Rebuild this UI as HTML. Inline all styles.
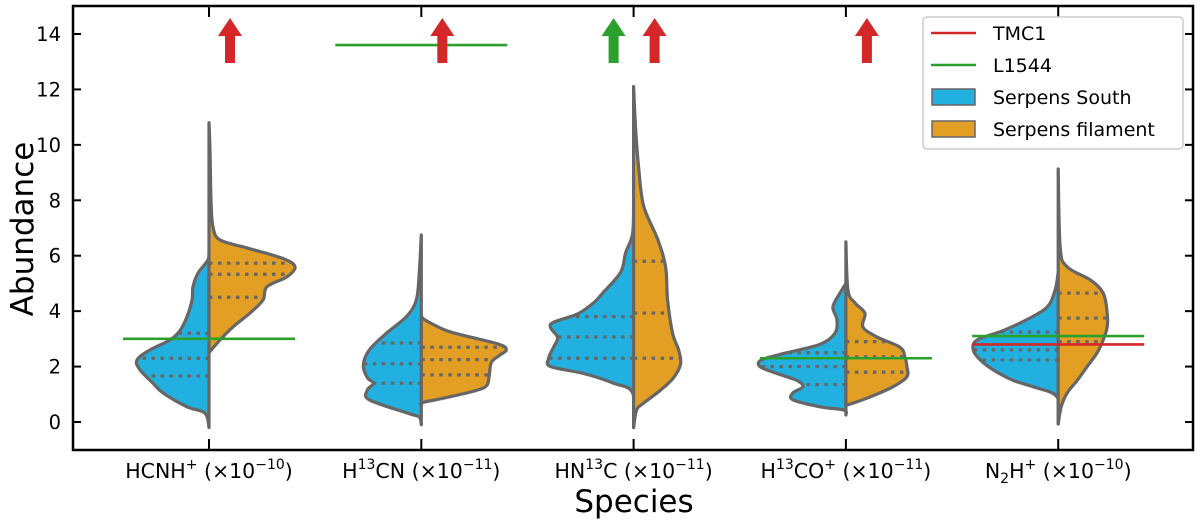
<!DOCTYPE html>
<html><head><meta charset="utf-8"><style>
body{margin:0;background:#fff;}
svg{display:block;font-family:"DejaVu Sans","Liberation Sans",sans-serif;}
</style></head><body>
<svg id="chart" width="1200" height="524" viewBox="0 0 1200 524"></svg>
<script>
const categories=["HCNH⁺","H¹³CN","HN¹³C","H¹³CO⁺","N₂H⁺"];
const catLabels=[["HCNH","+"," (×10","−10",")"],["H","13","CN (×10","−11",")"],["HN","13","C (×10","−11",")"],["H","13","CO","+"," (×10","−11",")"],["N","2","H","+"," (×10","−10",")"]];
const yTicks=[0,2,4,6,8,10,12,14];
// density profiles [value, density] per half
const southValues=[
[[-0.2,0],[0.32,4],[0.55,22],[1.05,46],[1.4,56],[1.88,69],[2.24,72],[2.6,59],[2.96,39],[3.3,29],[3.8,22],[4.4,17],[4.88,16],[5.37,11],[5.85,1],[6.2,0]],
[[-0.1,0],[0.18,2],[0.3,12],[0.8,52],[1.15,54],[1.4,48],[1.6,54],[2.05,58],[2.6,52],[3.2,35],[3.8,15],[4.4,5],[5.4,2],[6.75,0]],
[[-0.2,0],[1.05,1],[1.4,20],[1.75,50],[2.0,83],[2.3,85],[2.7,80],[3.05,76],[3.4,83],[3.6,80],[3.9,56],[4.3,40],[4.65,31],[5.4,13],[6.1,8],[6.8,1],[8,0]],
[[0.25,0],[0.43,2],[0.55,26],[0.8,53],[1.05,53],[1.27,43],[1.5,49],[1.75,69],[2.0,86],[2.25,84],[2.5,59],[2.8,26],[3.2,11],[3.7,9],[4.15,13],[4.65,6],[5.0,0]],
[[-0.07,0],[0.9,1],[1.27,25],[1.5,45],[1.88,65],[2.24,78],[2.6,85],[2.96,81],[3.3,55],[3.7,31],[4.15,11],[4.77,3],[5.4,0]]
];
const filamentValues=[
[[2.5,0],[2.96,11],[3.43,24],[3.93,41],[4.4,54],[4.88,58],[5.24,78],[5.6,86],[5.9,74],[6.28,38],[6.57,11],[7.04,4],[8.0,2],[9.8,1],[10.8,0]],
[[0.6,0],[0.7,1],[0.85,21],[1.1,51],[1.3,65],[1.7,68],[2.15,70],[2.4,78],[2.6,85],[2.8,78],[3.1,45],[3.3,25],[3.7,3],[3.9,0]],
[[-0.2,0],[0.43,3],[0.68,10],[1.15,27],[1.6,40],[2.1,47],[2.6,45],[3.2,39],[4.4,34],[5.6,32],[6.6,24],[7.8,10],[9.2,5],[10.6,2],[12.1,0]],
[[0.6,0],[0.68,7],[0.9,24],[1.27,47],[1.63,61],[2.0,61],[2.35,59],[2.7,54],[3.07,31],[3.43,17],[3.93,19],[4.3,9],[4.77,2],[6.5,0]],
[[-0.07,0],[0.55,3],[1.05,9],[1.5,19],[2.0,29],[2.5,39],[2.96,45],[3.43,49],[3.93,49],[4.65,45],[5.13,32],[5.6,9],[6.3,2],[9.13,0]]
];
const southQuartiles=[[1.66,2.3,3.2],[1.4,2.1,2.85],[2.3,3.07,3.8],[1.35,2.0,2.5],[2.24,2.6,3.25]];
const filamentQuartiles=[[4.5,5.33,5.73],[1.7,2.25,2.7],[2.3,3.93,5.8],[1.8,2.35,2.9],[2.9,3.75,4.65]];
const tmc1Values=[null,null,null,null,2.8];
const l1544Values=[3.0,13.6,null,2.3,3.1];
const tmc1Lower=[true,true,true,true,false];
const l1544Lower=[false,false,true,false,false];

const svg=document.getElementById('chart');
const NS='http://www.w3.org/2000/svg';
const L=73,R=1193,T=6,B=450;
const y0=422,yUnit=(422-34)/14;
function yS(v){return y0-v*yUnit;}
function xS(i){return 209+i*212.3;}
function wS(d){return d;}
function mk(tag,attrs,parent){const e=document.createElementNS(NS,tag);for(const k in attrs)e.setAttribute(k,attrs[k]);(parent||svg).appendChild(e);return e;}
function interp(prof,v){for(let k=0;k<prof.length-1;k++){const a=prof[k],b=prof[k+1];if(v>=a[0]&&v<=b[0]){return a[1]+(b[1]-a[1])*(v-a[0])/(b[0]-a[0]);}}return 0;}
function smooth(pts){let d='M'+pts[0][0]+','+pts[0][1];for(let i=0;i<pts.length-1;i++){const p0=pts[Math.max(0,i-1)],p1=pts[i],p2=pts[i+1],p3=pts[Math.min(pts.length-1,i+2)];const c1x=p1[0]+(p2[0]-p0[0])/6,c1y=p1[1]+(p2[1]-p0[1])/6,c2x=p2[0]-(p3[0]-p1[0])/6,c2y=p2[1]-(p3[1]-p1[1])/6;d+=' C'+c1x+','+c1y+' '+c2x+','+c2y+' '+p2[0]+','+p2[1];}return d;}

categories.forEach((c,i)=>{
  const g=mk('g',{});
  
  
  [[southValues[i],-1,'#22b0e0',southQuartiles[i],'south'],[filamentValues[i],1,'#e29f24',filamentQuartiles[i],'filament']].forEach(([prof,sgn,col,qs,nm])=>{
    const cx=xS(i);
    const pts=prof.map(p=>[cx+sgn*wS(p[1]),yS(p[0])]);
    let d=smooth(pts)+' Z';
    const p=mk('path',{d:d,fill:col,stroke:'#666',"stroke-width":3.2,"stroke-linejoin":'round'},g);
    
    
    qs.forEach(q=>{
      const w=wS(interp(prof,q));
      const ln=mk('line',{x1:cx,x2:cx+sgn*w,y1:yS(q),y2:yS(q),stroke:'#666',"stroke-width":3.2,"stroke-dasharray":'3.5,5.5'},g);
      
      
    });
  });
});

function arrow(x,col,name){
  const g=mk('g',{});
  
  
  mk('rect',{x:x-5,y:33,width:10,height:30,fill:col},g);
  mk('polygon',{points:(x-12)+',36 '+(x+12)+',36 '+x+',18',fill:col},g);
}
categories.forEach((c,i)=>{
  const cx=xS(i);
  if(l1544Values[i]!==null){const l=mk('line',{x1:cx-86,x2:cx+86,y1:yS(l1544Values[i]),y2:yS(l1544Values[i]),stroke:'#2ca02c',"stroke-width":2.6});
    
    }
  if(tmc1Values[i]!==null){const l=mk('line',{x1:cx-86,x2:cx+86,y1:yS(tmc1Values[i]),y2:yS(tmc1Values[i]),stroke:'#d62728',"stroke-width":2.6});
    
    }
  if(tmc1Lower[i])arrow(cx+21,'#d62728','tmc1-arrow');
  if(l1544Lower[i])arrow(cx-20,'#2ca02c','l1544-arrow');
});

const fr=mk('rect',{x:L,y:T,width:R-L,height:B-T,fill:'none',stroke:'#000',"stroke-width":2.5});


yTicks.forEach(t=>{
  const y=yS(t);
  mk('line',{x1:L,x2:L+8,y1:y,y2:y,stroke:'#000',"stroke-width":2});
  mk('line',{x1:R-8,x2:R,y1:y,y2:y,stroke:'#000',"stroke-width":2});
  const tx=mk('text',{x:L-12,y:y+7,"text-anchor":'end',"font-size":19.5,fill:'#000'});
  tx.textContent=t;
  
  
});
categories.forEach((c,i)=>{
  const x=xS(i);
  mk('line',{x1:x,x2:x,y1:B,y2:B-11,stroke:'#000',"stroke-width":2});
  mk('line',{x1:x,x2:x,y1:T,y2:T+11,stroke:'#000',"stroke-width":2});
  const tx=mk('text',{x:x,y:478,"text-anchor":'middle',"font-size":20.5,fill:'#000'});
  
  
  const parts=catLabels[i];
  parts.forEach((p,k)=>{
    const isSup=(p==='+'||p==='13'||/^−/.test(p));const isSub=(p==='2');
    const ts=mk('tspan',{},tx);ts.textContent=p;
    if(isSup){ts.setAttribute('font-size','14');ts.setAttribute('dy','-9');}
    else if(isSub){ts.setAttribute('font-size','14');ts.setAttribute('dy','5');}
    else if(k>0){const prev=parts[k-1];if(prev==='+'||prev==='13'||/^−/.test(prev))ts.setAttribute('dy','9');else if(prev==='2')ts.setAttribute('dy','-5');}
  });
});
let t=mk('text',{x:634,y:512,"text-anchor":'middle',"font-size":31,fill:'#000'});t.textContent='Species';


t=mk('text',{x:0,y:0,"text-anchor":'middle',"font-size":31,fill:'#000',transform:'translate(33,229) rotate(-90)'});t.textContent='Abundance';



const lg=mk('g',{});


mk('rect',{x:923,y:17,width:260,height:132,rx:4,fill:'#fff',stroke:'#ccc',"stroke-width":1.5},lg);
const legendItems=[['TMC1','line','#d62728'],['L1544','line','#2ca02c'],['Serpens South','box','#22b0e0'],['Serpens filament','box','#e29f24']];
legendItems.forEach((it,k)=>{
  const y=33+k*32;
  const e=mk('g',{},lg);
  
  
  if(it[1]==='line')mk('line',{x1:931,x2:976,y1:y,y2:y,stroke:it[2],"stroke-width":2.4},e);
  else mk('rect',{x:932,y:y-8,width:43,height:16,fill:it[2],stroke:'#666',"stroke-width":1.5},e);
  const tx=mk('text',{x:993,y:y+7,"font-size":19,fill:'#000'},e);tx.textContent=it[0];
});
</script>
</body></html>
